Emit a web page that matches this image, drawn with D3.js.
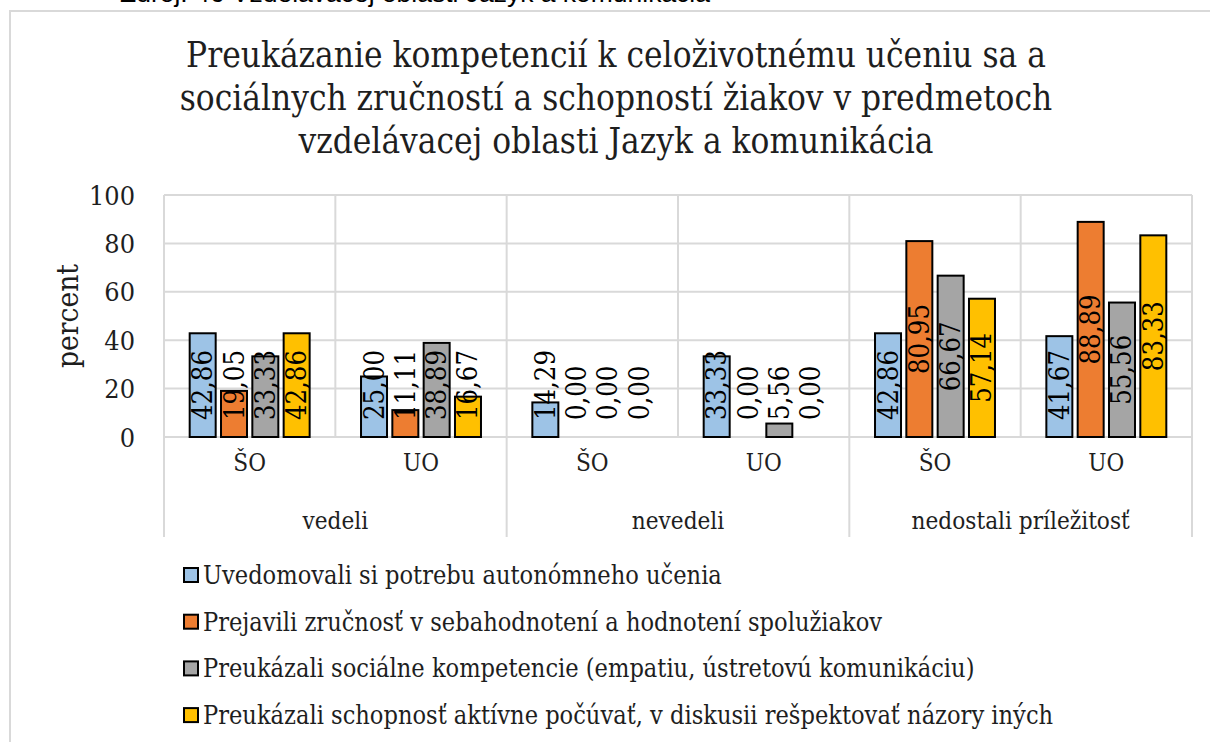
<!DOCTYPE html>
<html>
<head>
<meta charset="utf-8">
<script src="https://cdn.jsdelivr.net/npm/d3@7/dist/d3.min.js"></script>
<style>
	body { margin: 0; background: #fff; }
	svg { display: block; }
</style>
</head>
<body>
<svg id="chart" width="1210" height="742"></svg>
<script>
	// chart data
	const captionText = "Zdroj: 46 Vzdelávacej oblasti Jazyk a komunikácia";
	const titleLines = [
		"Preukázanie kompetencií k celoživotnému učeniu sa a",
		"sociálnych zručností a schopností žiakov v predmetoch",
		"vzdelávacej oblasti Jazyk a komunikácia"
	];
	const groups = ["vedeli", "nevedeli", "nedostali príležitosť"];
	const subgroups = ["ŠO", "UO"];
	const seriesNames = [
		"Uvedomovali si potrebu autonómneho učenia",
		"Prejavili zručnosť v sebahodnotení a hodnotení spolužiakov",
		"Preukázali sociálne kompetencie (empatiu, ústretovú komunikáciu)",
		"Preukázali schopnosť aktívne počúvať, v diskusii rešpektovať názory iných"
	];
	const seriesColors = ["#9DC3E6", "#ED7D31", "#A5A5A5", "#FFC000"];
	// order: vedeli ŠO, vedeli UO, nevedeli ŠO, nevedeli UO, nedostali ŠO, nedostali UO
	const autonomneUcenie = [42.86, 25.00, 14.29, 33.33, 42.86, 41.67];
	const sebahodnotenie = [19.05, 11.11, 0.00, 0.00, 80.95, 88.89];
	const socialneKompetencie = [33.33, 38.89, 0.00, 5.56, 66.67, 55.56];
	const aktivnePocuvanie = [42.86, 16.67, 0.00, 0.00, 57.14, 83.33];
	const yTicks = [0, 20, 40, 60, 80, 100];
	const yLabel = "percent";

	const seriesValues = [autonomneUcenie, sebahodnotenie, socialneKompetencie, aktivnePocuvanie];

	const svg = d3.select("#chart");
	const serif = "'DejaVu Serif Condensed', 'DejaVu Serif', serif";
	const sans = "'Liberation Sans', Arial, sans-serif";
	const gridColor = "#d9d9d9";
	const textColor = "#1e1e1e";
	const fmt = (v) => v.toFixed(2).replace(".", ",");

	// font size that makes a string as wide as in the picture
	function fitSize(text, target, family) {
		const probe = svg.append("text").attr("font-family", family).attr("font-size", 100).text(text);
		const w = probe.node().getComputedTextLength();
		probe.remove();
		return (100 * target) / w;
	}

	const plot = { left: 164, right: 1192, top: 195, bottom: 437 };

	const categories = groups.flatMap((g) => subgroups.map((s) => ({ key: `${g}|${s}`, group: g, sub: s })));

	const x0 = d3.scaleBand()
		.domain(categories.map((c) => c.key))
		.range([plot.left, plot.right])
		.padding(0);

	const x1 = d3.scaleBand()
		.domain(d3.range(seriesNames.length))
		.range([0, x0.bandwidth()])
		.paddingInner(0.17)
		.paddingOuter(0.82);

	const y = d3.scaleLinear().domain([0, 100]).range([plot.bottom, plot.top]);

	// chart frame (runs past the screenshot on the right and bottom)
	svg.append("rect")
		.attr("x", 10).attr("y", 11)
		.attr("width", 1230).attr("height", 760)
		.attr("fill", "#fff")
		.attr("stroke", gridColor)
		.attr("stroke-width", 2);

	// caption of the page, cut off by the screenshot
	svg.append("text")
		.attr("x", 120).attr("y", 2)
		.attr("font-family", sans)
		.attr("font-size", fitSize(captionText, 590, sans))
		.attr("fill", "#000")
		.text(captionText);

	// title
	const titleSize = fitSize(titleLines[0], 860, serif);
	svg.append("text")
		.attr("font-family", serif)
		.attr("font-size", titleSize)
		.attr("fill", textColor)
		.attr("text-anchor", "middle")
		.selectAll("tspan")
		.data(titleLines)
		.join("tspan")
		.attr("x", 616)
		.attr("y", (d, i) => 67 + i * 43)
		.text((d) => d);

	// gridlines
	const grid = svg.append("g").attr("stroke", gridColor).attr("stroke-width", 2);
	grid.selectAll("line.h")
		.data(yTicks)
		.join("line")
		.attr("class", "h")
		.attr("x1", plot.left).attr("x2", plot.right)
		.attr("y1", (d) => y(d)).attr("y2", (d) => y(d));

	const bounds = categories.map((c) => x0(c.key)).concat([plot.right]);
	grid.selectAll("line.v")
		.data(bounds)
		.join("line")
		.attr("class", "v")
		.attr("x1", (d) => d).attr("x2", (d) => d)
		.attr("y1", plot.top).attr("y2", plot.bottom);

	const groupBounds = groups.map((g) => x0(`${g}|${subgroups[0]}`)).concat([plot.right]);
	grid.selectAll("line.g")
		.data(groupBounds)
		.join("line")
		.attr("class", "g")
		.attr("x1", (d) => d).attr("x2", (d) => d)
		.attr("y1", plot.bottom).attr("y2", 537);

	// y axis ticks and title
	const tickSize = fitSize("100", 46, serif);
	svg.append("g")
		.selectAll("text")
		.data(yTicks)
		.join("text")
		.attr("x", 135)
		.attr("y", (d) => y(d))
		.attr("dy", "0.36em")
		.attr("text-anchor", "end")
		.attr("font-family", serif)
		.attr("font-size", tickSize)
		.attr("fill", textColor)
		.text((d) => d);

	svg.append("text")
		.attr("transform", `translate(68,${(plot.top + plot.bottom) / 2}) rotate(-90)`)
		.attr("text-anchor", "middle")
		.attr("dy", "0.35em")
		.attr("font-family", serif)
		.attr("font-size", fitSize(yLabel, 104, serif))
		.attr("fill", textColor)
		.text(yLabel);

	// bars
	const cells = [];
	seriesValues.forEach((vals, si) => {
		vals.forEach((v, ci) => cells.push({ series: si, cat: categories[ci].key, value: v }));
	});

	svg.append("g")
		.selectAll("rect")
		.data(cells.filter((d) => d.value > 0))
		.join("rect")
		.attr("x", (d) => x0(d.cat) + x1(d.series))
		.attr("y", (d) => y(d.value))
		.attr("width", x1.bandwidth())
		.attr("height", (d) => y(0) - y(d.value))
		.attr("fill", (d) => seriesColors[d.series])
		.attr("stroke", "#000")
		.attr("stroke-width", 2);

	// data labels, centred in the bar but kept above the axis
	const labelSize = fitSize("42,86", 70, serif);
	const labelFloor = y(0) - 17;
	const labels = svg.append("g")
		.selectAll("text")
		.data(cells)
		.join("text")
		.attr("font-family", serif)
		.attr("font-size", labelSize)
		.attr("fill", "#000")
		.attr("text-anchor", "middle")
		.attr("dominant-baseline", "central")
		.text((d) => fmt(d.value));

	labels.each(function (d) {
		const len = this.getComputedTextLength();
		const cx = x0(d.cat) + x1(d.series) + x1.bandwidth() / 2;
		const cy = Math.min(y(d.value / 2), labelFloor - len / 2);
		d3.select(this).attr("transform", `translate(${cx},${cy}) rotate(-90)`);
	});

	// category axis: two levels
	const catSize = Math.max(fitSize("nedostali príležitosť", 190, serif), tickSize * 0.9);
	svg.append("g")
		.selectAll("text")
		.data(categories)
		.join("text")
		.attr("x", (d) => x0(d.key) + x0.bandwidth() / 2)
		.attr("y", 471)
		.attr("text-anchor", "middle")
		.attr("font-family", serif)
		.attr("font-size", catSize)
		.attr("fill", textColor)
		.text((d) => d.sub);

	svg.append("g")
		.selectAll("text")
		.data(groups)
		.join("text")
		.attr("x", (d, i) => (groupBounds[i] + groupBounds[i + 1]) / 2)
		.attr("y", 529)
		.attr("text-anchor", "middle")
		.attr("font-family", serif)
		.attr("font-size", catSize)
		.attr("fill", textColor)
		.text((d) => d);

	// legend
	const legendSize = fitSize(seriesNames[0], 519, serif);
	const legend = svg.append("g")
		.selectAll("g")
		.data(seriesNames)
		.join("g")
		.attr("transform", (d, i) => `translate(184,${575 + i * 46.7})`);

	legend.append("rect")
		.attr("x", 0).attr("y", -7)
		.attr("width", 14).attr("height", 14)
		.attr("fill", (d, i) => seriesColors[i])
		.attr("stroke", "#000")
		.attr("stroke-width", 2);

	legend.append("text")
		.attr("x", 19)
		.attr("dy", "0.36em")
		.attr("font-family", serif)
		.attr("font-size", legendSize)
		.attr("fill", textColor)
		.text((d) => d);
</script>
</body>
</html>
